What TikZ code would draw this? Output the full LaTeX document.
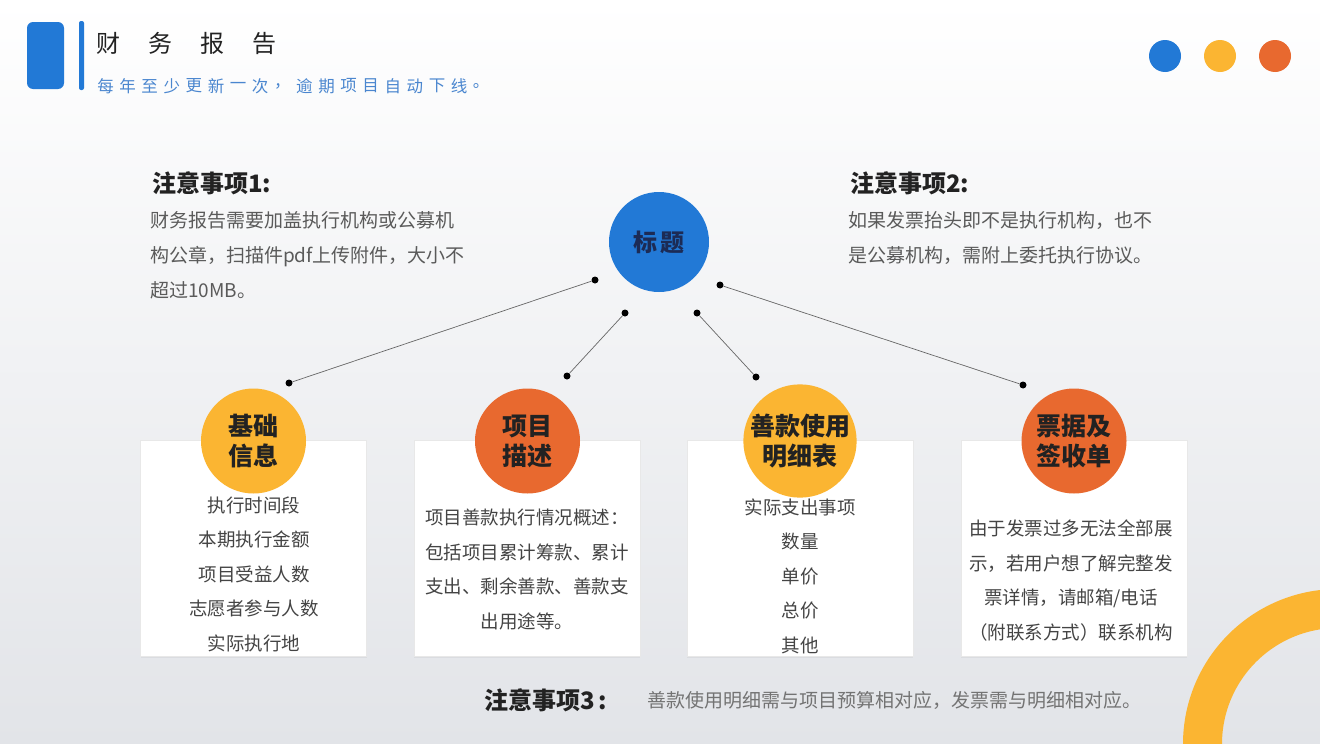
\documentclass[tikz,border=0pt]{standalone}
\usepackage{fontspec}
\setmainfont{Noto Sans CJK SC}
\usetikzlibrary{shadows}
\definecolor{cblue}{HTML}{2279D6}
\definecolor{cyellow}{HTML}{FBB532}
\definecolor{corange}{HTML}{E8692F}
\definecolor{ink}{HTML}{222222}
\definecolor{bodytxt}{HTML}{5A5A5A}
\definecolor{cardtxt}{HTML}{444444}
\definecolor{navy}{HTML}{1C2B55}
\definecolor{subblue}{HTML}{4A86CF}
\definecolor{bgbottom}{HTML}{E2E4E8}
\definecolor{conn}{HTML}{666666}
\begin{document}
\begin{tikzpicture}[x=1pt,y=-1pt,
  heading/.style={anchor=west,inner sep=0pt,text=ink,font=\fontsize{24}{28}\selectfont\bfseries},
  bodytext/.style={anchor=west,inner sep=0pt,text=bodytxt,align=left,font=\fontsize{19}{35}\selectfont},
  cardbox/.style={fill=white,draw=gray!18,line width=0.6pt,minimum width=226pt,minimum height=216pt,inner sep=0pt,
    drop shadow={opacity=0.10,shadow xshift=0pt,shadow yshift=-2pt}},
  cardtext/.style={inner sep=0pt,text=cardtxt,align=center,font=\fontsize{18.5}{34.5}\selectfont},
  bigdisc/.style={circle,minimum size=105pt,inner sep=0pt,text=ink,align=center,font=\fontsize{25}{30}\selectfont\bfseries},
  dotnode/.style={circle,fill=black,minimum size=7pt,inner sep=0pt},
  connline/.style={draw=conn,line width=0.7pt},
  topdot/.style={circle,minimum size=32pt,inner sep=0pt}
]
\useasboundingbox (0,0) rectangle (1320,744);
\shade[top color=white,bottom color=bgbottom] (0,0) rectangle (1320,744);
% ring bottom right
\begin{scope}
  \clip (0,0) rectangle (1320,744);
  \draw[cyellow,line width=39pt] (1338,744) circle[radius=135.5];
\end{scope}
% header
\fill[cblue,rounded corners=6pt] (27,22) rectangle (64,89);
\fill[cblue,rounded corners=2pt] (79,21) rectangle (84,90);
\foreach \c [count=\i from 0] in {财,务,报,告}
  \node[inner sep=0pt,text=ink,font=\fontsize{24}{28}\selectfont] (t\i) at (108+\i*52,43.5) {\c};
\foreach \c [count=\i from 0] in {每,年,至,少,更,新,一,次,，,逾,期,项,目,自,动,下,线,。}
  \node[inner sep=0pt,text=subblue,font=\fontsize{16.5}{18}\selectfont] (s\i) at (105.5+\i*22.1,86) {\c};
\node[topdot,fill=cblue] (tb) at (1165,56) {};
\node[topdot,fill=cyellow] (ty) at (1220,56) {};
\node[topdot,fill=corange] (to) at (1275,56) {};
% notes
\node[heading] (n1h) at (152,183) {注意事项1:};
\node[bodytext] (n1b) at (150,255) {财务报告需要加盖执行机构或公募机\\构公章，扫描件pdf上传附件，大小不\\超过10MB。};
\node[heading] (n2h) at (850,183) {注意事项2:};
\node[bodytext] (n2b) at (848,237.5) {如果发票抬头即不是执行机构，也不\\是公募机构，需附上委托执行协议。};
% title circle
\node[circle,fill=cblue,minimum size=100pt,inner sep=0pt,text=navy,font=\fontsize{24}{26}\selectfont\bfseries] (title) at (659,242) {标\,题};
% dots and connectors
\node[dotnode] (a1) at (595,280) {};
\node[dotnode] (a2) at (625,313) {};
\node[dotnode] (a3) at (697,313) {};
\node[dotnode] (a4) at (720,285) {};
\node[dotnode] (b1) at (289,383) {};
\node[dotnode] (b2) at (567,376) {};
\node[dotnode] (b3) at (756,377) {};
\node[dotnode] (b4) at (1023,385) {};
\draw[connline] (a1) -- (b1);
\draw[connline] (a2) -- (b2);
\draw[connline] (a3) -- (b3);
\draw[connline] (a4) -- (b4);
% cards
\node[cardbox] (card1) at (253.5,548) {};
\node[cardbox] (card2) at (527,548) {};
\node[cardbox] (card3) at (800,548) {};
\node[cardbox] (card4) at (1074,548) {};
\node[bigdisc,fill=cyellow] (c1) at (253.5,441) {基础\\信息};
\node[bigdisc,fill=corange] (c2) at (527.5,441) {项目\\描述};
\node[bigdisc,fill=cyellow] (c3) at (800,441) {善款使用\\明细表};
\node[bigdisc,fill=corange] (c4) at (1074,441) {票据及\\签收单};
\node[cardtext] (k1) at (254,574) {执行时间段\\本期执行金额\\项目受益人数\\志愿者参与人数\\实际执行地};
\node[cardtext] (k2) at (527,569.5) {项目善款执行情况概述：\\包括项目累计筹款、累计\\支出、剩余善款、善款支\\出用途等。};
\node[cardtext] (k3) at (800,576) {实际支出事项\\数量\\单价\\总价\\其他};
\node[cardtext] (k4) at (1071,580.5) {由于发票过多无法全部展\\示，若用户想了解完整发\\票详情，请邮箱/电话\\（附联系方式）联系机构};
% bottom note
\node[heading] (n3h) at (484,700) {注意事项3\,:};
\node[anchor=west,inner sep=0pt,text=bodytxt!85,font=\fontsize{19}{21}\selectfont] (n3b) at (647,700) {善款使用明细需与项目预算相对应，发票需与明细相对应。};
\end{tikzpicture}
\end{document}
